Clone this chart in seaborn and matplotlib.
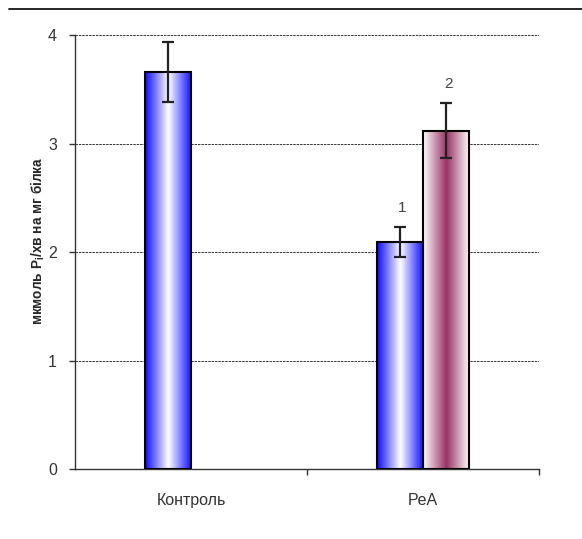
import matplotlib

matplotlib.use("Agg")
import matplotlib.pyplot as plt
import numpy as np
import pandas as pd
import seaborn as sns
from matplotlib.colors import to_rgb
from matplotlib.lines import Line2D

groups = ["Контроль", "PeA", "PeA"]
series = ["s1", "s1", "s2"]
values = [3.66, 2.09, 3.12]
errors = [0.28, 0.14, 0.25]
marks = ["", "1", "2"]
edge_colors = {"s1": "#0a0aff", "s2": "#ffffff"}
mid_colors = {"s1": "#ffffff", "s2": "#993366"}

frame = pd.DataFrame({"group": groups, "series": series, "value": values, "err": errors, "mark": marks})

sns.set_style("white")
plt.rcParams["font.family"] = ["Liberation Sans", "DejaVu Sans"]

fig = plt.figure(figsize=(5.82, 5.39), dpi=100)
ax = fig.add_axes([0.1289, 0.1299, 0.797, 0.805])

sns.barplot(data=frame, x="group", y="value", hue="series", hue_order=["s1", "s2"],
            order=["Контроль", "PeA"], width=0.4, dodge=True, errorbar=None, legend=False,
            ax=ax, edgecolor="black", linewidth=1.5, zorder=3)


def gradient_fill(patch, edge, mid):
    x0, y0 = patch.get_x(), patch.get_y()
    w, h = patch.get_width(), patch.get_height()
    t = np.linspace(0, 1, 200)
    k = np.abs(t - 0.5) * 2
    e, m = np.array(to_rgb(edge)), np.array(to_rgb(mid))
    row = m[None, :] * (1 - k[:, None]) + e[None, :] * k[:, None]
    img = row[None, :, :]
    im = ax.imshow(img, extent=[x0, x0 + w, y0, y0 + h], aspect="auto", zorder=2,
                   interpolation="bilinear")
    im.set_clip_path(patch)
    patch.set_facecolor("none")


for patch in list(ax.patches):
    h = patch.get_height()
    if h <= 0 or np.isnan(h):
        continue
    row = frame.iloc[int(np.argmin(np.abs(frame["value"] - h)))]
    gradient_fill(patch, edge_colors[row["series"]], mid_colors[row["series"]])
    xc = patch.get_x() + patch.get_width() / 2
    ax.errorbar(xc, row["value"], yerr=row["err"], fmt="none", ecolor="#222222",
                elinewidth=1.6, capsize=4, capthick=1.6, zorder=4)
    if row["mark"]:
        ax.text(xc + 0.01, row["value"] + row["err"] + 0.18, row["mark"], ha="center", va="center",
                fontsize=11, color="#444444")

ax.set_xlim(-0.5, 1.5)
ax.set_ylim(0, 4)
ax.set_yticks([0, 1, 2, 3, 4])
ax.yaxis.grid(True, linestyle=(0, (2.5, 1)), color="#333333", linewidth=0.7)
ax.set_axisbelow(True)
for side in ["top", "right"]:
    ax.spines[side].set_visible(False)
for side in ["left", "bottom"]:
    ax.spines[side].set_color("#333333")
    ax.spines[side].set_linewidth(1.0)

ax.set_xticks([0.5, 1.5], minor=True)
ax.tick_params(axis="x", which="minor", direction="out", length=4, width=1, color="#333333", bottom=True)
ax.tick_params(axis="x", which="major", length=0, pad=17, labelsize=11.5, labelcolor="#333333")
ax.tick_params(axis="y", direction="out", length=4, width=1, color="#333333", left=True,
               pad=9, labelsize=11.5, labelcolor="#333333")
ax.set_xlabel("")
ax.set_ylabel("мкмоль P$_\\mathregular{i}$/хв на мг білка", fontsize=9.8, fontweight="bold",
              va="center")
ax.yaxis.set_label_coords(-0.08, 0.525)

fig.add_artist(Line2D([9 / 582, 1.0], [1 - 9 / 539, 1 - 9 / 539], color="black", linewidth=1.2,
                      transform=fig.transFigure))

fig.savefig("out.png", dpi=100)
plt.close(fig)
